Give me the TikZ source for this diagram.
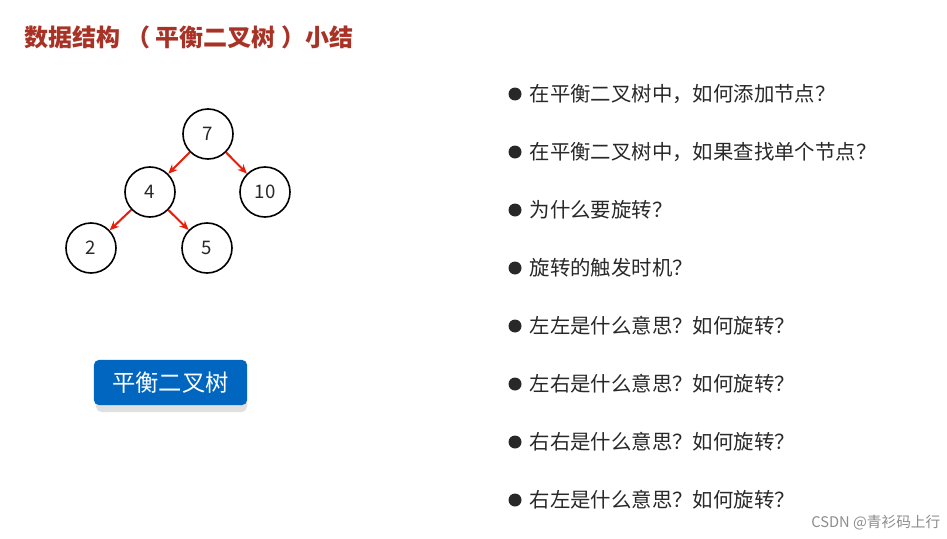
\documentclass[tikz,border=0pt]{standalone}
\usepackage{fontspec}
\setmainfont{Noto Sans CJK SC}
\usetikzlibrary{arrows.meta}
\definecolor{titlered}{RGB}{169,50,38}
\definecolor{btnblue}{RGB}{0,102,192}
\definecolor{txtgray}{RGB}{40,40,40}
\tikzset{
  treenode/.style={draw=black,line width=1.2pt,circle,minimum size=37.5pt,inner sep=0pt,font=\fontsize{14}{16}\selectfont,text=txtgray},
  treeedge/.style={draw={rgb,255:red,230;green,30;blue,10},line width=1.5pt,-{Stealth[length=7pt,width=6pt]},shorten >=0pt},
  bullettext/.style={anchor=west,font=\fontsize{15.3}{18}\selectfont,text=txtgray},
}
\begin{document}
\begin{tikzpicture}[x=0.75pt,y=0.75pt,yscale=-1,xscale=1]
\useasboundingbox (0,0) rectangle (947,539);

% Title
\node (title) [anchor=west,font=\bfseries\fontsize{18}{22}\selectfont,text=titlered] at (20,37) {数据结构 （ 平衡二叉树 ）小结};

% Tree
\node (n7) [treenode] at (208,134) {7};
\node (n4) [treenode] at (150,192) {4};
\node (n10) [treenode] at (265,192) {10};
\node (n2) [treenode] at (91,248) {2};
\node (n5) [treenode] at (207,248) {5};
\draw [treeedge] (n7) -- (n4);
\draw [treeedge] (n7) -- (n10);
\draw [treeedge] (n4) -- (n2);
\draw [treeedge] (n4) -- (n5);

% Button
\fill [black!12,rounded corners=4pt] (96,368) rectangle (247,412);
\node (btn) [fill=btnblue,rounded corners=4pt,minimum width=115pt,minimum height=34pt,text=white,font=\fontsize{17.5}{20}\selectfont] at (170.5,382.5) {平衡二叉树};

% Questions
\foreach \i/\q in {0/在平衡二叉树中，如何添加节点？,1/在平衡二叉树中，如果查找单个节点？,2/为什么要旋转？,3/旋转的触发时机？,4/左左是什么意思？如何旋转？,5/左右是什么意思？如何旋转？,6/右右是什么意思？如何旋转？,7/右左是什么意思？如何旋转？}{
  \fill [txtgray] (515,{94+58*\i}) circle (6.5);
  \node (q\i) [bullettext] at (525,{94+58*\i}) {\q};
}

% Watermark
\node (wm) [anchor=east,font=\fontsize{11}{13}\selectfont,text=black!45] at (945,523) {CSDN @青衫码上行};
\end{tikzpicture}
\end{document}
